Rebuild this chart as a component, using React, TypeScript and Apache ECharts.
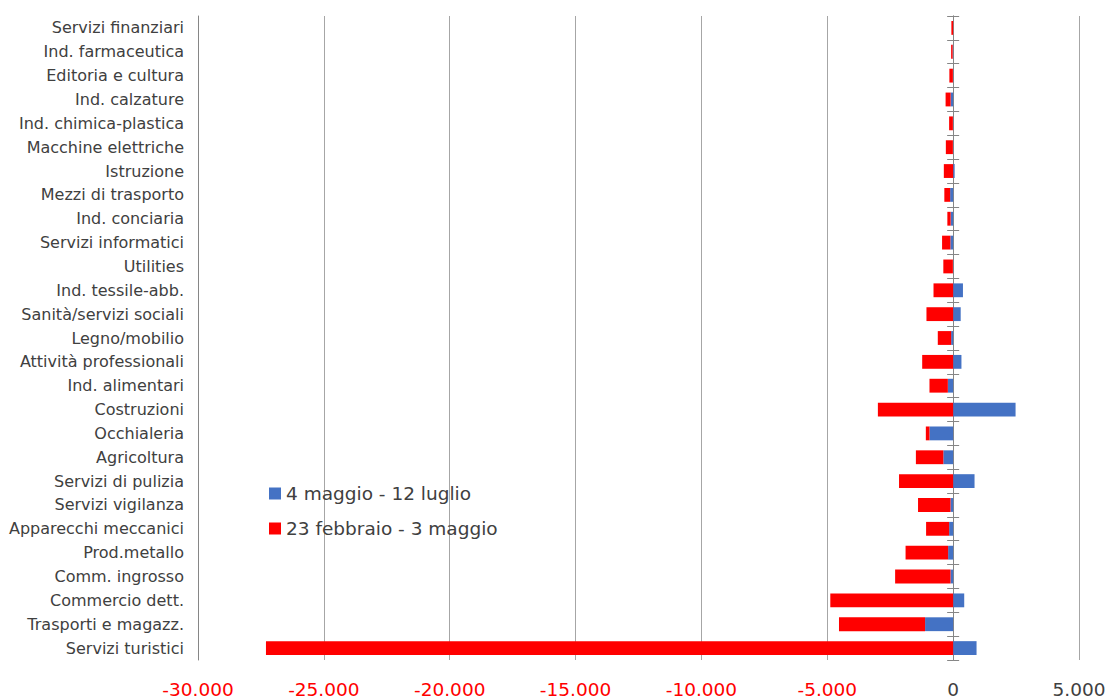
import React, { useEffect, useRef } from "react";
import * as echarts from "echarts";

const categories: string[] = [
  "Servizi finanziari",
  "Ind. farmaceutica",
  "Editoria e cultura",
  "Ind. calzature",
  "Ind. chimica-plastica",
  "Macchine elettriche",
  "Istruzione",
  "Mezzi di trasporto",
  "Ind. conciaria",
  "Servizi informatici",
  "Utilities",
  "Ind. tessile-abb.",
  "Sanità/servizi sociali",
  "Legno/mobilio",
  "Attività professionali",
  "Ind. alimentari",
  "Costruzioni",
  "Occhialeria",
  "Agricoltura",
  "Servizi di pulizia",
  "Servizi vigilanza",
  "Apparecchi meccanici",
  "Prod.metallo",
  "Comm. ingrosso",
  "Commercio dett.",
  "Trasporti e magazz.",
  "Servizi turistici",
];

const seriesNames: string[] = ["4 maggio - 12 luglio", "23 febbraio - 3 maggio"];

// 4 maggio - 12 luglio
const mayJulValues: number[] = [
  0, -20, -10, -100, -10, -10, 60, -120, -100, -110, -10, 390, 300, -80, 330,
  -210, 2480, -940, -390, 850, -105, -160, -200, -105, 440, -1115, 930,
];

// 23 febbraio - 3 maggio
const febMayValues: number[] = [
  -70, -60, -140, -200, -150, -280, -370, -230, -130, -330, -380, -780, -1060,
  -530, -1230, -730, -2990, -145, -1090, -2150, -1290, -915, -1690, -2200,
  -4880, -3420, -27300,
];

const xMin = -30000;
const xMax = 5000;
const xInterval = 5000;

function fmt(v: number): string {
  const n = Math.round(Math.abs(v));
  const s = String(n).replace(/\B(?=(\d{3})+(?!\d))/g, ".");
  return (v < 0 ? "-" : "") + s;
}

export default function App() {
  const ref = useRef<HTMLDivElement>(null);
  useEffect(() => {
    if (!ref.current) return;
    const chart = echarts.init(ref.current, null, { renderer: "svg" });
    const font = "DejaVu Sans";
    const centerAxis = (inside: boolean) => ({
      type: "category",
      data: categories,
      inverse: true,
      position: "left",
      axisLine: {
        show: true,
        onZero: true,
        onZeroAxisIndex: 0,
        lineStyle: { color: "#868686", width: 1 },
      },
      axisTick: {
        show: true,
        inside,
        length: 6,
        lineStyle: { color: "#868686", width: 1 },
      },
      axisLabel: { show: false },
      splitLine: { show: false },
    });
    chart.setOption({
      animation: false,
      textStyle: { fontFamily: font },
      grid: {
        left: 198,
        right: 26,
        top: 16,
        bottom: 40,
        containLabel: false,
        outerBoundsMode: "none",
      },
      legend: {
        orient: "vertical",
        left: 264,
        top: 479,
        itemWidth: 12,
        itemHeight: 12,
        itemGap: 16,
        icon: "rect",
        data: seriesNames,
        textStyle: { fontSize: 18.5, color: "#404040", fontFamily: font },
      },
      xAxis: {
        type: "value",
        min: xMin,
        max: xMax,
        interval: xInterval,
        axisLine: { show: false },
        axisTick: { show: false },
        splitLine: { show: true, lineStyle: { color: "#a6a6a6", width: 1 } },
        axisLabel: {
          margin: 20,
          fontSize: 18.5,
          fontFamily: font,
          formatter: (v: number) => fmt(v),
          color: (v: any) => (Number(v) < 0 ? "#FF0000" : "#404040"),
        },
      },
      yAxis: [
        {
          type: "category",
          data: categories,
          inverse: true,
          position: "left",
          axisLine: { show: true, onZero: false, lineStyle: { color: "#868686" } },
          axisTick: { show: false },
          axisLabel: { fontSize: 16, color: "#404040", margin: 14, fontFamily: font },
          splitLine: { show: false },
        },
        centerAxis(false),
        centerAxis(true),
      ],
      series: [
        {
          name: seriesNames[0],
          type: "bar",
          stack: "total",
          yAxisIndex: 0,
          data: mayJulValues,
          barWidth: "58%",
          itemStyle: { color: "#4472C4" },
        },
        {
          name: seriesNames[1],
          type: "bar",
          stack: "total",
          yAxisIndex: 0,
          data: febMayValues,
          barWidth: "58%",
          itemStyle: { color: "#FF0000" },
        },
      ],
    });
    return () => chart.dispose();
  }, []);
  return (
    <div
      ref={ref}
      style={{ position: "fixed", left: 0, top: 0, width: 1105, height: 700, background: "#fff" }}
    />
  );
}
